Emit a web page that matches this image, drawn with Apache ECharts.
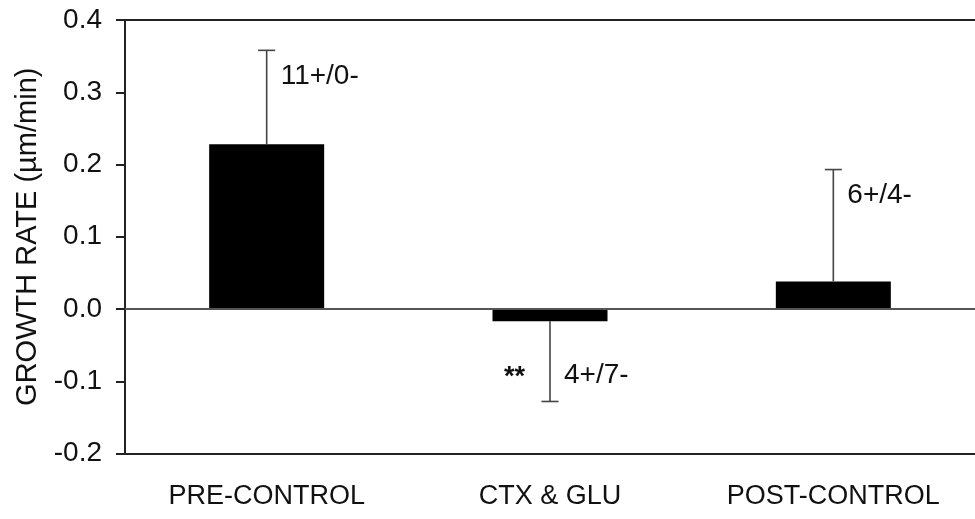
<!DOCTYPE html>
<html>
<head>
<meta charset="utf-8">
<script src="https://cdn.jsdelivr.net/npm/echarts@6/dist/echarts.min.js"></script>
<style>
  html, body { margin: 0; padding: 0; background: #fff; }
  #chart { width: 975px; height: 519px; }
</style>
</head>
<body>
<div id="chart"></div>
<script>
// Growth rate per condition, with the upper/lower error extent and response counts
const categories = ['PRE-CONTROL', 'CTX & GLU', 'POST-CONTROL'];
const growthRate = [0.228, -0.017, 0.038];
const errorEnd = [0.358, -0.128, 0.193];
const countLabels = ['11+/0-', '4+/7-', '6+/4-'];
const markLabels = ['', '**', ''];
const yTicks = { min: -0.2, max: 0.4, interval: 0.1 };

const FONT = '"Liberation Sans", Arial, Helvetica, sans-serif';
const TEXT = '#111';

const chart = echarts.init(document.getElementById('chart'), null, { renderer: 'canvas' });

function renderError(params, api) {
  const i = params.dataIndex;
  const base = api.coord([i, api.value(1)]);
  const end = api.coord([i, api.value(2)]);
  const up = api.value(2) >= api.value(1);
  const dir = up ? 1 : -1; // 1 = cap above bar
  const capHalf = 8.5;
  const x = base[0];
  const children = [
    { type: 'line', shape: { x1: x, y1: base[1], x2: x, y2: end[1] },
      style: { stroke: '#444', lineWidth: 1.6 } },
    { type: 'line', shape: { x1: x - capHalf, y1: end[1], x2: x + capHalf, y2: end[1] },
      style: { stroke: '#444', lineWidth: 1.6 } },
    { type: 'text', x: x + 14, y: end[1] + dir * 26,
      style: { text: countLabels[i], fill: TEXT, font: '28px ' + FONT,
               textAlign: 'left', textVerticalAlign: 'middle' } }
  ];
  if (markLabels[i]) {
    children.push({ type: 'text', x: x - 25, y: end[1] + dir * 24,
      style: { text: markLabels[i], fill: TEXT, font: 'bold 27px ' + FONT,
               textAlign: 'right', textVerticalAlign: 'middle' } });
  }
  return { type: 'group', children };
}

chart.setOption({
  animation: false,
  backgroundColor: '#fff',
  grid: { left: 125, right: 0, top: 20, bottom: 65.5 },
  xAxis: [
    {
      type: 'category',
      data: categories,
      position: 'bottom',
      axisLine: { onZero: false, lineStyle: { color: '#222', width: 2 } },
      axisTick: { show: false },
      axisLabel: { color: TEXT, fontSize: 27, fontFamily: FONT, margin: 30 }
    },
    {
      type: 'category',
      data: categories,
      position: 'top',
      axisLine: { onZero: false, lineStyle: { color: '#222', width: 2 } },
      axisTick: { show: false },
      axisLabel: { show: false }
    }
  ],
  yAxis: {
    type: 'value',
    min: yTicks.min,
    max: yTicks.max,
    interval: yTicks.interval,
    name: 'GROWTH RATE (µm/min)',
    nameLocation: 'middle',
    nameRotate: 90,
    nameGap: 80,
    nameTextStyle: { color: TEXT, fontSize: 29, fontFamily: FONT },
    axisLine: { show: true, lineStyle: { color: '#222', width: 2 } },
    axisTick: { show: true, length: 9, lineStyle: { color: '#222', width: 2 } },
    axisLabel: { color: TEXT, fontSize: 28, fontFamily: FONT, margin: 23,
                 formatter: v => v.toFixed(1) },
    splitLine: { show: false }
  },
  series: [
    {
      type: 'bar',
      data: growthRate,
      barWidth: 115,
      itemStyle: { color: '#000' },
      markLine: {
        silent: true,
        symbol: 'none',
        label: { show: false },
        lineStyle: { color: '#555', width: 2, type: 'solid' },
        data: [{ yAxis: 0 }]
      },
      z: 2
    },
    {
      type: 'custom',
      renderItem: renderError,
      data: growthRate.map((v, i) => [i, v, errorEnd[i]]),
      encode: { x: 0, y: [1, 2] },
      z: 3
    }
  ]
});
</script>
</body>
</html>
